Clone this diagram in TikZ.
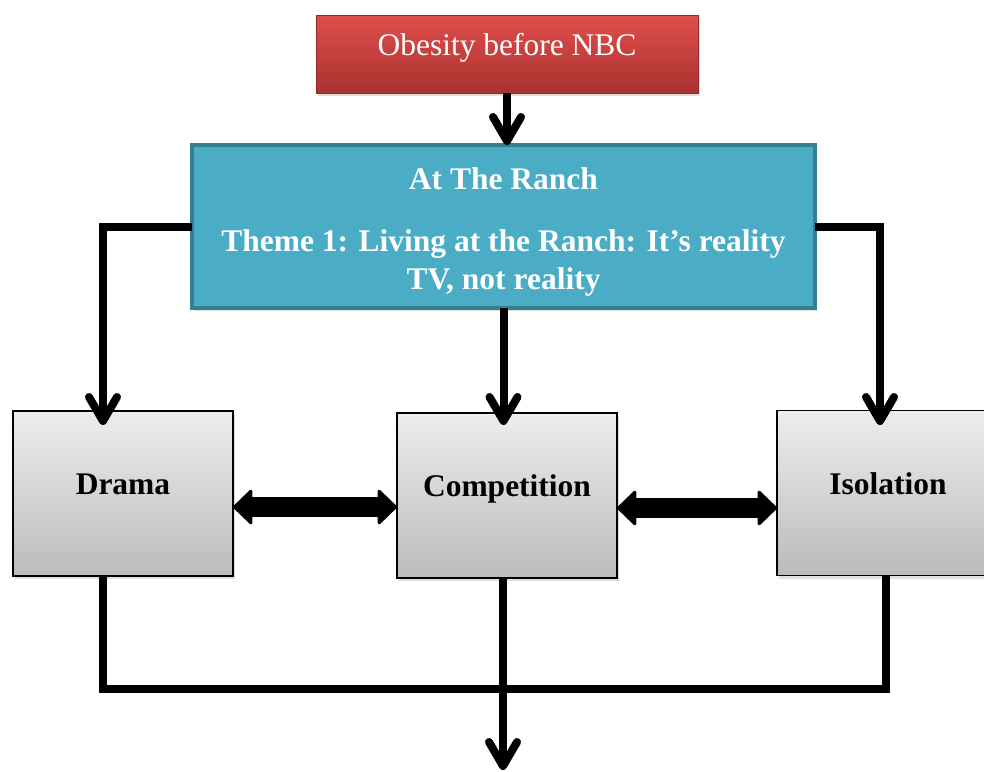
\documentclass[tikz,border=0pt]{standalone}
\usepackage{fontspec}
\setmainfont{Liberation Serif}
\usetikzlibrary{arrows.meta,shadows}
\definecolor{tealfill}{HTML}{4BACC6}
\definecolor{tealedge}{HTML}{357F93}
\definecolor{redtop}{HTML}{E04E4C}
\definecolor{redbot}{HTML}{A93230}
\definecolor{rededge}{HTML}{8E2A28}
\definecolor{graytop}{HTML}{EDEDED}
\definecolor{graybot}{HTML}{BBBBBB}
\begin{document}
\begin{tikzpicture}[x=1pt,y=-1pt,
  shadowed/.style={drop shadow={opacity=0.25,shadow xshift=2pt,shadow yshift=-3pt}},
  redbox/.style={shadowed,draw=rededge,line width=1pt,top color=redtop,bottom color=redbot,
    minimum width=382pt,minimum height=78pt,inner sep=0pt,outer sep=0pt,
    text height=22pt,text depth=19pt,
    text=white,font=\fontsize{31.5}{38}\selectfont},
  tealbox/.style={shadowed,draw=tealedge,line width=4pt,fill=tealfill,
    minimum width=623pt,minimum height=163pt,inner sep=0pt,outer sep=0pt},
  tealtext/.style={text=white,align=center,yshift=-5pt,font=\fontsize{31.5}{38}\selectfont\bfseries},
  graybox/.style={shadowed,draw=black,line width=1.3pt,top color=graytop,bottom color=graybot,
    minimum width=220pt,minimum height=165pt,inner sep=0pt,outer sep=0pt,
    text height=22pt,text depth=20pt,font=\fontsize{31.5}{38}\selectfont\bfseries},
  conn/.style={line width=8pt,line join=miter},
  barb/.style={conn,-{Straight Barb[length=24pt,width=28pt,round]}},
  dbl/.style={line width=20pt,
    {Triangle[width=38pt,length=20pt,line width=3pt,round]}-{Triangle[width=38pt,length=20pt,line width=3pt,round]}}
]
\useasboundingbox (0,0) rectangle (984,771);

\node[redbox] (obes) at (507,54) {Obesity before NBC};
\node[tealbox,label={[tealtext,name=tealtxt]center:At The Ranch\\[24pt]Theme 1: Living at the Ranch: It’s reality\\TV, not reality}] (teal) at (503.5,226.5) {};
\node[graybox] (drama) at (123,493.5) {Drama};
\node[graybox] (comp) at (507,495.5) {Competition};
\node[graybox,minimum width=222pt] (isol) at (888,493) {Isolation};

\coordinate (dtip) at (103,425);
\coordinate (ctip) at (503.5,425);
\coordinate (itip) at (880,425);
\coordinate (bl) at (103,689);
\coordinate (br) at (886,689);
\coordinate (btip) at (503,770);
\coordinate (mid) at (0,507);
\coordinate (mid2) at (0,508);

\draw[barb] (obes.south) -- (obes.south |- teal.north);
\draw[barb] (teal.west) -| (dtip);
\draw[barb] (teal.south) -- (ctip);
\draw[barb] (teal.east) -| (itip);

\draw[conn] (drama.south -| bl) -- (bl) -- (br) -- (isol.south -| br);
\draw[barb] (comp.south -| btip) -- (btip);

\draw[dbl] (drama.east |- mid) -- (comp.west |- mid);
\draw[dbl] (comp.east |- mid2) -- (isol.west |- mid2);
\end{tikzpicture}
\end{document}
